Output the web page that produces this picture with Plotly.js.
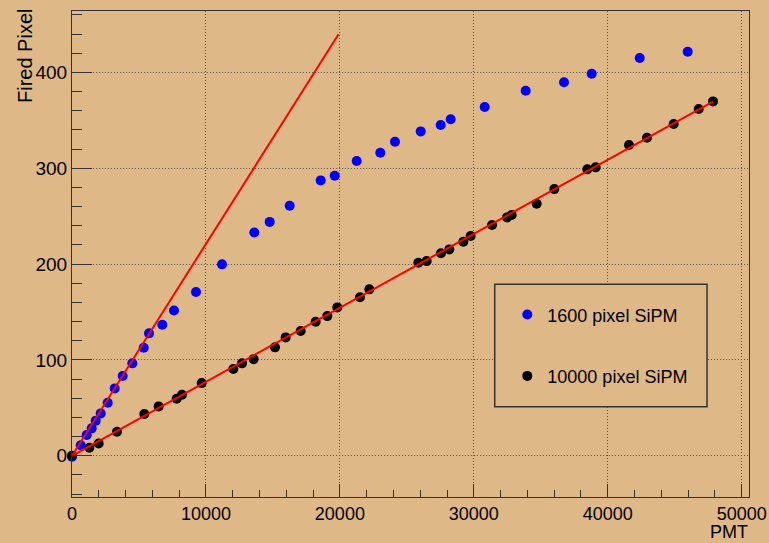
<!DOCTYPE html>
<html>
<head>
<meta charset="utf-8">
<script src="https://cdn.plot.ly/plotly-3.0.1.min.js"></script>
<style>html,body{margin:0;padding:0;background:#DEB887;}#chart{width:769px;height:543px;}</style>
</head>
<body>
<div id="chart"></div>
<script>
// 1600 pixel SiPM
var pmt1600 = [0, 650, 1097, 1470, 1767, 2143, 2665, 3188, 3785, 4502, 5353, 5749, 6742, 7615, 9258, 11199, 13611, 14760, 16253, 18567, 19613, 21256, 23018, 24116, 26034, 27527, 28274, 30812, 33873, 36733, 38800, 42385, 45968];
var fired1600 = [-1, 11, 21.6, 28.6, 36.5, 44.2, 55.3, 70.3, 83.2, 96.4, 112.7, 127.7, 136.7, 151.5, 170.8, 199.7, 233, 244, 260.8, 287.3, 292.2, 307.5, 316.1, 327.6, 338.4, 345, 351, 363.8, 380.8, 389.6, 398.5, 414.9, 421.5];
// 10000 pixel SiPM
var pmt10000 = [0, 1294, 1991, 3360, 5400, 6470, 7815, 8213, 9683, 12045, 12692, 13560, 15156, 15953, 17073, 18193, 19060, 19808, 21502, 22200, 25857, 26480, 27546, 28170, 29215, 29763, 31360, 32480, 32828, 34694, 36009, 38473, 39095, 41586, 42930, 44923, 46790, 47858];
var fired10000 = [0, 8.3, 12.9, 25, 43.5, 51.5, 59.5, 63.6, 75.8, 90.5, 96.4, 100.8, 113.1, 123.5, 130.1, 139.8, 145.7, 154.8, 165.3, 173.6, 201.4, 203.1, 211.2, 215.3, 223.3, 229.2, 240.8, 248.7, 251.1, 263, 278.2, 298.8, 300.9, 324.2, 331.8, 346.1, 361.7, 369.7];
// linear fits (slope, x-range)
var fit1600Slope = 0.0221, fit1600Range = [0, 19900];
var fit10000Slope = 0.00772, fit10000Range = [0, 47858];
var seriesNames = ['1600 pixel SiPM', '10000 pixel SiPM'];
var xTitle = 'PMT', yTitle = 'Fired Pixel';

function fitY(slope, xs) { return xs.map(function (x) { return slope * x; }); }

var FONT = '"Liberation Sans", Arial, Helvetica, sans-serif';
var BG = '#DEB887';

var traces = [
  {x: pmt1600, y: fired1600, mode: 'markers', type: 'scatter', name: seriesNames[0], legendgroup: 'a',
   marker: {color: '#0000FF', size: 10}, cliponaxis: false},
  {x: pmt10000, y: fired10000, mode: 'markers', type: 'scatter', name: seriesNames[1], legendgroup: 'b',
   marker: {color: '#000000', size: 10}, cliponaxis: false},
  {x: fit1600Range, y: fitY(fit1600Slope, fit1600Range), mode: 'lines', type: 'scatter', showlegend: false,
   line: {color: '#FF0000', width: 2}, hoverinfo: 'skip'},
  {x: fit10000Range, y: fitY(fit10000Slope, fit10000Range), mode: 'lines', type: 'scatter', showlegend: false,
   line: {color: '#FF0000', width: 2}, hoverinfo: 'skip'}
];

var axisCommon = {
  showline: true, mirror: true, linecolor: '#333', linewidth: 1,
  ticks: 'inside', tickcolor: '#333', tickwidth: 1,
  showgrid: true, gridcolor: '#555', gridwidth: 1, griddash: '1px,2px',
  zeroline: false, tickformat: 'd',
  tickfont: {family: FONT, size: 19, color: '#000'}
};

var layout = {
  width: 769, height: 543,
  margin: {l: 72, r: 20, t: 11, b: 46},
  paper_bgcolor: BG, plot_bgcolor: BG,
  font: {family: FONT, color: '#000'},
  xaxis: Object.assign({}, axisCommon, {
    range: [0, 50545], dtick: 10000, tick0: 0, ticklen: 13,
    tickfont: {family: FONT, size: 18, color: '#000'},
    minor: {dtick: 2000, ticklen: 7, ticks: 'inside', tickcolor: '#333', showgrid: false}
  }),
  yaxis: Object.assign({}, axisCommon, {
    range: [-43, 464], dtick: 100, tick0: 0, ticklen: 20,
    minor: {dtick: 20, ticklen: 10, ticks: 'inside', tickcolor: '#333', showgrid: false}
  }),
  showlegend: true,
  legend: {
    x: 0.643, xanchor: 'left', y: 0.413, yanchor: 'top',
    bgcolor: 'rgba(0,0,0,0)', borderwidth: 0, tracegroupgap: 35,
    font: {family: FONT, size: 18, color: '#000'}
  },
  shapes: [
    {type: 'rect', xref: 'paper', yref: 'paper', x0: 0.6244, x1: 0.938, y0: 0.1858, y1: 0.4377,
     line: {color: '#333', width: 1.5}, fillcolor: BG, layer: 'above'}
  ],
  annotations: [
    {text: xTitle, xref: 'paper', yref: 'paper', x: 1, xanchor: 'right', y: -0.0725, yanchor: 'middle',
     height: 18, valign: 'middle', borderpad: 0,
     showarrow: false, font: {family: FONT, size: 18, color: '#000'}},
    {text: yTitle, xref: 'paper', yref: 'paper', x: -0.0694, xanchor: 'center', y: 0.9074, yanchor: 'middle',
     textangle: -90, showarrow: false, font: {family: FONT, size: 20, color: '#000'}}
  ]
};

Plotly.newPlot('chart', traces, layout, {displayModeBar: false, staticPlot: true});
</script>
</body>
</html>
